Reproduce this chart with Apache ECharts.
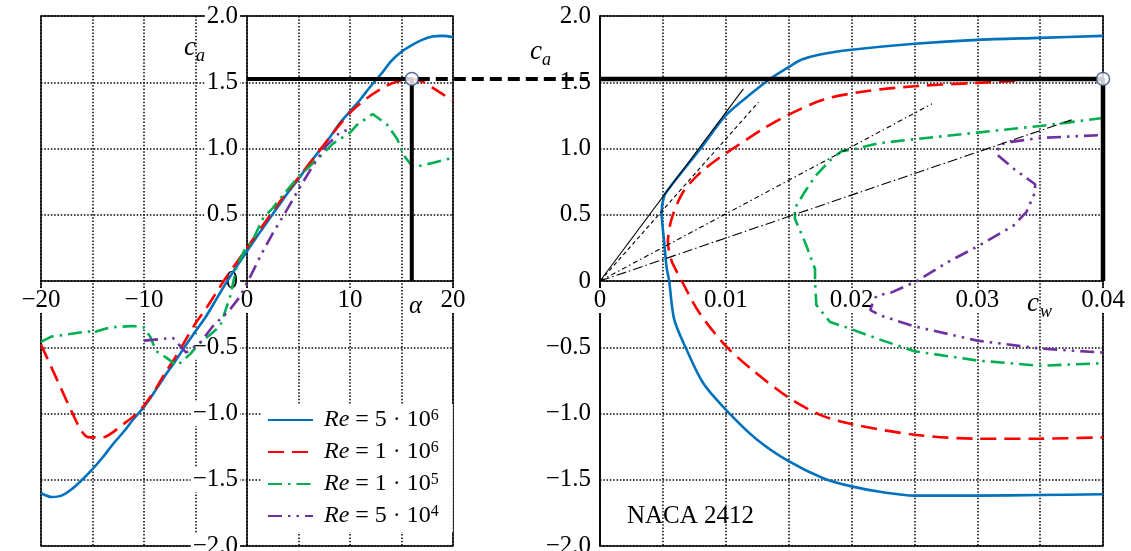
<!DOCTYPE html>
<html>
<head>
<meta charset="utf-8">
<script src="https://cdn.jsdelivr.net/npm/echarts@6/dist/echarts.min.js"></script>
<style>
    html, body { margin: 0; padding: 0; background: #fff; }
    #main { width: 1131px; height: 551px; }
</style>
</head>
<body>
<div id="main"></div>
<script>
// legend names (exponent after ^)
var reNames = ['Re = 5 · 10^6', 'Re = 1 · 10^6', 'Re = 1 · 10^5', 'Re = 5 · 10^4'];

// ca over alpha (left panel), [alpha, ca]
var alphaRe5e6 = [[-20,-1.60],[-19,-1.63],[-18,-1.62],[-17,-1.57],[-16,-1.50],[-15,-1.42],[-14,-1.33],[-13,-1.23],[-12,-1.14],[-11,-1.04],[-10,-0.95],[-9,-0.84],[-8,-0.72],[-7,-0.61],[-6,-0.49],[-5,-0.38],[-4,-0.27],[-3,-0.14],[-2,-0.01],[-1,0.11],[0,0.225],[1,0.34],[2,0.45],[3,0.56],[4,0.67],[5,0.77],[6,0.88],[7,0.98],[8,1.08],[9,1.19],[10,1.28],[11,1.37],[12,1.47],[13,1.56],[14,1.66],[15,1.73],[16,1.78],[17,1.82],[18,1.845],[19,1.85],[20,1.84]];
var alphaRe1e6 = [[-20,-0.48],[-19,-0.65],[-18,-0.82],[-17,-0.99],[-16,-1.14],[-15.3,-1.18],[-14,-1.18],[-13,-1.14],[-12,-1.08],[-11,-1.02],[-10,-0.94],[-9,-0.83],[-8,-0.70],[-7,-0.58],[-6,-0.45],[-5,-0.32],[-4,-0.21],[-3,-0.09],[-2,0.03],[-1,0.14],[0,0.25],[1,0.36],[2,0.47],[3,0.58],[4,0.68],[5,0.78],[6,0.88],[7,0.98],[8,1.08],[9,1.18],[10,1.27],[11,1.34],[12,1.40],[13,1.45],[14,1.49],[15,1.515],[16,1.525],[17,1.505],[18,1.46],[19,1.41],[20,1.36]];
var alphaRe1e5 = [[-20,-0.46],[-19,-0.42],[-17.2,-0.40],[-15.4,-0.38],[-14.9,-0.40],[-14.6,-0.38],[-13.3,-0.35],[-11,-0.34],[-10,-0.35],[-9.4,-0.42],[-8.8,-0.53],[-7.8,-0.58],[-6.8,-0.64],[-5.5,-0.55],[-4.6,-0.47],[-3.5,-0.40],[-2.6,-0.34],[-1.65,-0.12],[-1,0.11],[-0.2,0.24],[0.5,0.30],[1.6,0.48],[2.5,0.55],[3.2,0.62],[4.8,0.77],[7.1,0.94],[8.4,1.04],[10,1.12],[10.7,1.18],[12.2,1.26],[13.6,1.18],[14.6,1.07],[15.2,0.95],[15.7,0.90],[16.2,0.86],[18,0.89],[20,0.93]];
var alphaRe5e4 = [[-10,-0.45],[-7.2,-0.43],[-5.9,-0.54],[-4.6,-0.47],[-3.3,-0.34],[-1.7,-0.22],[-0.7,-0.12],[0.1,0],[1.45,0.21],[2.5,0.36],[3.9,0.54],[5,0.69],[6.4,0.87],[7.7,1.02],[9,1.12],[9.8,1.14]];

// ca over cw (right panel), [cw, ca]
var polarRe5e6 = [[0.04,1.85],[0.035,1.835],[0.03,1.82],[0.025,1.79],[0.02,1.745],[0.0175,1.71],[0.016,1.67],[0.0151,1.62],[0.0136,1.53],[0.0121,1.42],[0.01,1.25],[0.008,1.00],[0.0064,0.81],[0.0055,0.70],[0.0051,0.64],[0.0049,0.52],[0.0051,0.30],[0.0053,0.10],[0.0055,0],[0.0059,-0.29],[0.0068,-0.5],[0.0082,-0.77],[0.01,-0.97],[0.0124,-1.19],[0.015,-1.36],[0.0178,-1.49],[0.02,-1.55],[0.0225,-1.595],[0.025,-1.62],[0.03,-1.62],[0.035,-1.615],[0.04,-1.61]];
var polarRe1e6 = [[0.033,1.51],[0.03,1.495],[0.025,1.47],[0.021,1.43],[0.0178,1.37],[0.0151,1.26],[0.013,1.15],[0.0109,1.02],[0.0095,0.93],[0.008,0.82],[0.0066,0.67],[0.0057,0.47],[0.0054,0.29],[0.0057,0.15],[0.006,0.09],[0.0065,0],[0.0079,-0.24],[0.01,-0.49],[0.0121,-0.67],[0.015,-0.88],[0.0175,-1.01],[0.02,-1.08],[0.025,-1.16],[0.03,-1.19],[0.035,-1.19],[0.04,-1.18]];
var polarRe1e5 = [[0.04,1.23],[0.035,1.17],[0.03,1.12],[0.025,1.07],[0.0222,1.04],[0.02,0.99],[0.0192,0.98],[0.0183,0.91],[0.0171,0.79],[0.0162,0.66],[0.0155,0.55],[0.0155,0.47],[0.0164,0.27],[0.0171,0.09],[0.0171,0],[0.0172,-0.18],[0.0183,-0.31],[0.0196,-0.35],[0.0222,-0.44],[0.025,-0.53],[0.03,-0.60],[0.035,-0.64],[0.04,-0.62]];
var polarRe5e4 = [[0.0396,1.10],[0.035,1.08],[0.0327,1.05],[0.0318,1.03],[0.0315,0.96],[0.033,0.84],[0.0346,0.73],[0.0346,0.67],[0.0339,0.52],[0.0329,0.42],[0.0302,0.27],[0.0276,0.14],[0.0252,0],[0.0231,-0.09],[0.022,-0.11],[0.0217,-0.16],[0.0215,-0.22],[0.0223,-0.26],[0.0249,-0.34],[0.03,-0.45],[0.035,-0.51],[0.04,-0.54]];

// rays from the origin (best glide ratio), end points [cw, ca]
var rayEnds = [[0.0114,1.45],[0.0126,1.35],[0.0264,1.337],[0.0375,1.216]];

// marked operating point
var alphaMark = 16;
var caMark = 1.525;
var cwMark = 0.04;

var font = 'Liberation Serif';

function fmtCa(v) {
    if (Math.abs(v) < 1e-9) return '0';
    return (v < 0 ? '−' : '') + Math.abs(v).toFixed(1);
}
function fmtAlpha(v) {
    return v < 0 ? '−' + (-v) : '' + v;
}
function fmtCw(v) {
    return Math.abs(v) < 1e-9 ? '0' : v.toFixed(2);
}

var myChart = echarts.init(document.getElementById('main'));

var grids = [
    { left: 41, top: 16, width: 412, height: 530 },
    { left: 600, top: 16, width: 503, height: 530 }
];

var labelStyle = {
    fontFamily: font, fontSize: 25, color: '#000',
    backgroundColor: '#fff', padding: [0, 2]
};
var gridLine = { show: true, lineStyle: { color: '#000', width: 1.5, type: [1.5, 1.8] } };

function gridAxis(idx, min, max, step) {
    return {
        type: 'value', gridIndex: idx, min: min, max: max, interval: step,
        axisLine: { show: false }, axisTick: { show: false }, axisLabel: { show: false },
        splitLine: gridLine, z: 0
    };
}
// axis with line + labels, shifted so that it sits on the other axis' zero
function labelAxis(idx, pos, min, max, step, fmt, otherMin, otherMax) {
    var g = grids[idx];
    var len = pos === 'left' ? g.width : g.height;
    var offset = -len * (0 - otherMin) / (otherMax - otherMin);
    return {
        type: 'value', gridIndex: idx, position: pos, offset: offset,
        min: min, max: max, interval: step,
        axisLine: { show: true, onZero: false, lineStyle: { color: '#000', width: 1.5 } },
        axisTick: { show: false },
        axisLabel: Object.assign({ margin: 7, formatter: fmt, showMinLabel: true, showMaxLabel: true, hideOverlap: false }, labelStyle),
        splitLine: { show: false }, z: 1
    };
}

var lineStyles = [
    { color: '#0072bd', width: 2.6, type: 'solid' },
    { color: '#ff0000', width: 2.6, type: [16, 8] },
    { color: '#00b050', width: 2.6, type: [14, 6, 2.5, 6] },
    { color: '#7030a0', width: 2.6, type: [14, 6, 2.5, 6, 2.5, 6] }
];
var alphaData = [alphaRe5e6, alphaRe1e6, alphaRe1e5, alphaRe5e4];
var polarData = [polarRe5e6, polarRe1e6, polarRe1e5, polarRe5e4];
var raysType = ['solid', [4, 3], [5, 3, 1.5, 3], [10, 3, 1.5, 3]];

var series = [];
reNames.forEach(function(name, i) {
    series.push({
        name: name, type: 'line', xAxisIndex: 1, yAxisIndex: 1,
        data: alphaData[i], showSymbol: false, symbol: 'none',
        smooth: i < 2 ? 0.3 : false, lineStyle: lineStyles[i], itemStyle: { color: lineStyles[i].color }
    });
    series.push({
        name: name, type: 'line', xAxisIndex: 3, yAxisIndex: 3,
        data: polarData[i], showSymbol: false, symbol: 'none',
        smooth: i < 2 ? 0.3 : false, lineStyle: lineStyles[i], itemStyle: { color: lineStyles[i].color }
    });
});
rayEnds.forEach(function(p, i) {
    series.push({
        type: 'line', xAxisIndex: 3, yAxisIndex: 3, data: [[0, 0], p], symbol: 'none',
        lineStyle: { color: '#000', width: 1.1, type: raysType[i] }, z: 3
    });
});
// thick marker lines
series.push({
    type: 'line', xAxisIndex: 1, yAxisIndex: 1, clip: false, symbol: 'none',
    data: [[0, caMark], [alphaMark, caMark], [alphaMark, 0]],
    lineStyle: { color: '#000', width: 4 }, z: 4
});
series.push({
    type: 'line', xAxisIndex: 3, yAxisIndex: 3, clip: false, symbol: 'none',
    data: [[0, caMark], [cwMark, caMark], [cwMark, 0]],
    lineStyle: { color: '#000', width: 4.5 }, z: 4
});
series.push({
    type: 'scatter', xAxisIndex: 1, yAxisIndex: 1, clip: false, symbolSize: 13,
    data: [[alphaMark, caMark]],
    itemStyle: { color: '#fff', borderColor: '#2e4a8a', borderWidth: 1.5 }, z: 10
});
series.push({
    type: 'scatter', xAxisIndex: 3, yAxisIndex: 3, clip: false, symbolSize: 13,
    data: [[cwMark, caMark]],
    itemStyle: { color: '#fff', borderColor: '#2e4a8a', borderWidth: 1.5 }, z: 10
});

var option = {
    animation: false,
    backgroundColor: '#fff',
    grid: grids.map(function(g) {
        return Object.assign({ show: true, borderColor: '#000', borderWidth: 1.5, outerBoundsMode: 'none', containLabel: false }, g);
    }),
    xAxis: [
        gridAxis(0, -20, 20, 5),
        labelAxis(0, 'bottom', -20, 20, 10, fmtAlpha, -2, 2),
        gridAxis(1, 0, 0.04, 0.005),
        labelAxis(1, 'bottom', 0, 0.04, 0.01, fmtCw, -2, 2)
    ],
    yAxis: [
        gridAxis(0, -2, 2, 0.5),
        labelAxis(0, 'left', -2, 2, 0.5, fmtCa, -20, 20),
        gridAxis(1, -2, 2, 0.5),
        labelAxis(1, 'left', -2, 2, 0.5, fmtCa, 0, 0.04)
    ],
    legend: {
        data: reNames, orient: 'vertical', left: 262, top: 404,
        itemWidth: 45, itemHeight: 14, itemGap: 8,
        backgroundColor: '#fff', padding: [4, 14, 4, 5],
        itemStyle: { opacity: 0 },
        formatter: function(name) {
            var parts = name.split('^');
            return '{i|Re}{n|' + parts[0].slice(2) + '}{s|' + parts[1] + '}';
        },
        textStyle: {
            padding: [0, 0, 0, 6],
            rich: {
                i: { fontFamily: font, fontStyle: 'italic', fontSize: 24, lineHeight: 24, color: '#000' },
                n: { fontFamily: font, fontSize: 24, lineHeight: 24, color: '#000' },
                s: { fontFamily: font, fontSize: 16, lineHeight: 24, verticalAlign: 'top', color: '#000' }
            }
        }
    },
    series: series
};

myChart.setOption(option);

// dashed connector between the two marked points and the axis names
var p1 = myChart.convertToPixel({ xAxisIndex: 1, yAxisIndex: 1 }, [alphaMark, caMark]);
var p2 = myChart.convertToPixel({ xAxisIndex: 3, yAxisIndex: 3 }, [0, caMark]);

function txt(x, y, s, size, italic) {
    return {
        type: 'text', x: x, y: y, z: 6,
        style: { text: s, fontFamily: font, fontSize: size, fontStyle: italic ? 'italic' : 'normal', fill: '#000', verticalAlign: 'middle' }
    };
}

myChart.setOption({
    graphic: [
        {
            type: 'line', z: 5,
            shape: { x1: p1[0] + 6, y1: p1[1], x2: p2[0] - 12, y2: p2[1] },
            style: { stroke: '#000', lineWidth: 4, lineDash: [12, 6] }
        },
        txt(184, 48, 'c', 27, true),
        txt(196, 56, 'a', 18, true),
        txt(530, 52, 'c', 27, true),
        txt(542, 60, 'a', 18, true),
        txt(409, 306, 'α', 25, true),
        txt(1027, 304, 'c', 27, true),
        txt(1040, 312, 'w', 18, true),
        txt(627, 516, 'NACA 2412', 25, false)
    ]
});
</script>
</body>
</html>
